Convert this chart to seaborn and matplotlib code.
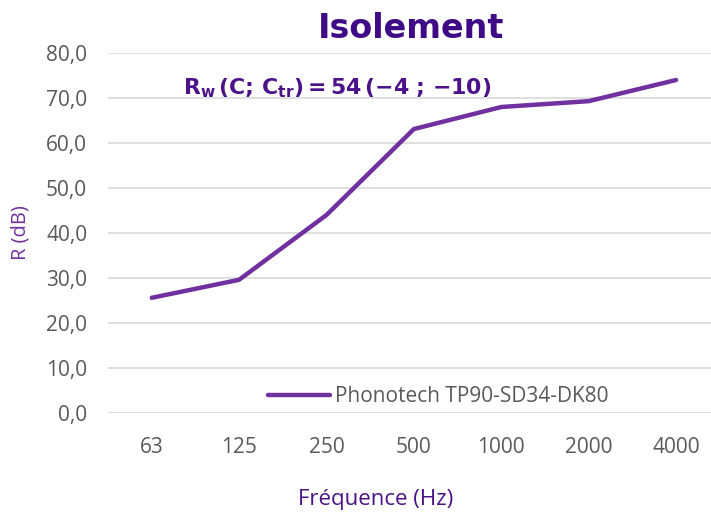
import matplotlib
matplotlib.use("Agg")
import matplotlib.pyplot as plt
import seaborn as sns
import pandas as pd

frequencies = ["63", "125", "250", "500", "1000", "2000", "4000"]
r_values = [25.6, 29.6, 44.0, 63.1, 68.0, 69.3, 74.0]
series_name = "Phonotech TP90-SD34-DK80"
y_ticks = [0, 10, 20, 30, 40, 50, 60, 70, 80]

sns.set_theme(style="white")
plt.rcParams['font.family'] = ['Open Sans', 'DejaVu Sans']

df = pd.DataFrame({"freq": frequencies, "R": r_values, "serie": series_name})

fig = plt.figure(figsize=(7.11, 5.12), dpi=100)
ax = fig.add_axes([108/711, (512-413)/512, 1 - 108/711, (413-53)/512])

sns.lineplot(data=df, x="freq", y="R", hue="serie", palette=["#7030A0"],
             linewidth=3.2, sort=False, ax=ax, legend=True)

ax.set_ylim(0, 80)
ax.set_xlim(-0.5, 6.4)
ax.set_yticks(y_ticks)
ax.set_yticklabels([f"{v:.1f}".replace(".", ",") for v in y_ticks])
ax.grid(axis="y", color="#D9D9D9", linewidth=1.2)
ax.set_axisbelow(True)
for s in ax.spines.values():
    s.set_visible(False)
ax.tick_params(axis="both", length=0, labelsize=15, colors="#595959")
ax.tick_params(axis="x", pad=17)
ax.tick_params(axis="y", pad=15)
ax.set_xlabel("")
ax.set_ylabel("R (dB)", color="#7030A0", fontsize=14.5)
ax.yaxis.set_label_coords(-0.128, 0.5)

fig.text(376/711, 1 - 500/512, "Fréquence (Hz)", color="#4B1289", fontsize=16,
         ha="center", va="center")

fig.text(411/711, 1 - 29/512, "Isolement", color="#3F0A85", fontsize=24,
         fontweight="bold", ha="center", va="center", family=["DejaVu Sans"])

fig.text(337/711, 1 - 88/512,
         r"$\mathbf{R_{w}\,(C;\,C_{tr}) = 54\,({-}4\ ;\,{-}10)}$",
         color="#4B1289", fontsize=15.8, ha="center", va="center")

leg = ax.legend(loc="center", bbox_to_anchor=(438/711, 1 - 397/512),
                bbox_transform=fig.transFigure, frameon=False, fontsize=15,
                handlelength=3.0, handletextpad=0.2)
for t in leg.get_texts():
    t.set_color("#595959")
for l in leg.get_lines():
    l.set_linewidth(3.2)

fig.savefig("out.png", dpi=100)
